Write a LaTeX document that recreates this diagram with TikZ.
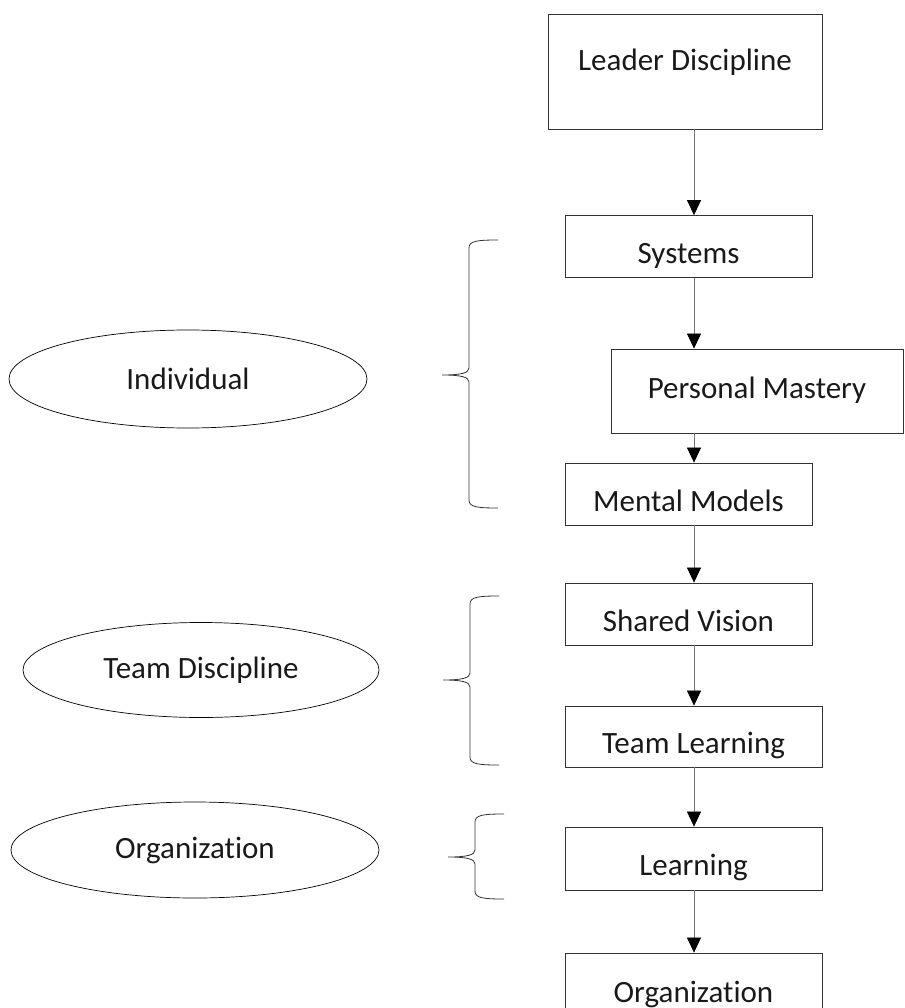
\documentclass[tikz,border=0pt]{standalone}
\usepackage{fontspec}
\setmainfont{Carlito}[Ligatures=NoCommon]
\usetikzlibrary{arrows.meta,shapes.geometric}
\tikzset{
  >={Triangle[width=14pt,length=15pt,color=black]},
}
\tikzstyle{box}=[draw=black!80,line width=0.8pt,inner sep=0pt,minimum width=247pt,minimum height=62pt,text height=34pt,text depth=0pt]
\tikzstyle{group}=[draw=black,line width=0.7pt,ellipse,inner sep=0pt]
\tikzstyle{flow}=[draw=black!55,line width=0.7pt,->]
\tikzstyle{brace}=[line width=0.8pt,black!80]
\tikzstyle{every node}=[font=\fontsize{31}{36}\selectfont,text=black!90]

\begin{document}
\begin{tikzpicture}[x=1pt,y=-1pt]
    \useasboundingbox (0,0) rectangle (904,1008);
    \coordinate (axis) at (694,0);
    % flow boxes
    \node[box,minimum width=274pt,minimum height=115pt] (leader) at (685,71.5) {};
    \node (leadertxt) at (685,62) {Leader Discipline};
    \node[box] (systems) at (688.5,246.5) {Systems};
    \node[box,minimum width=292pt,minimum height=84pt,text height=14pt] (mastery) at (757,391) {Personal Mastery};
    \node[box] (mental) at (688.5,494) {Mental Models};
    \node[box] (shared) at (688.5,614) {Shared Vision};
    \node[box,minimum width=257pt,minimum height=61pt] (teamlearn) at (693.5,736.5) {Team Learning};
    \node[box,minimum width=257pt,minimum height=63pt] (learning) at (693.5,858.5) {Learning};
    \node[box,minimum width=257pt,minimum height=64pt] (organization) at (693.5,985) {Organization};
    % arrows
    \draw[flow] (leader.south -| axis) -- (systems.north -| axis);
    \draw[flow] (systems.south -| axis) -- (mastery.north -| axis);
    \draw[flow] (mastery.south -| axis) -- (mental.north -| axis);
    \draw[flow] (mental.south -| axis) -- (shared.north -| axis);
    \draw[flow] (shared.south -| axis) -- (teamlearn.north -| axis);
    \draw[flow] (teamlearn.south -| axis) -- (learning.north -| axis);
    \draw[flow] (learning.south -| axis) -- (organization.north -| axis);
    % groups
    \node[group,minimum width=358pt,minimum height=98pt] (individual) at (188,379) {Individual};
    \node[group,minimum width=356pt,minimum height=95pt] (teamdisc) at (201,670) {Team Discipline};
    \node[group,minimum width=368pt,minimum height=96pt] (orggroup) at (195,850) {Organization};
    % braces
    \foreach \xv/\yt/\ym/\yb in {469/240/375/508, 470/596/680/765, 475/814/857/899}
      \draw[brace] (\xv+29,\yt) .. controls (\xv+8,\yt) and (\xv,\yt+1) .. (\xv,\yt+8)
        -- (\xv,\ym-7) .. controls (\xv,\ym-2) and (\xv-8,\ym) .. (\xv-27,\ym)
        .. controls (\xv-8,\ym) and (\xv,\ym+2) .. (\xv,\ym+7)
        -- (\xv,\yb-8) .. controls (\xv,\yb-1) and (\xv+8,\yb) .. (\xv+29,\yb);
  \end{tikzpicture}
\end{document}
